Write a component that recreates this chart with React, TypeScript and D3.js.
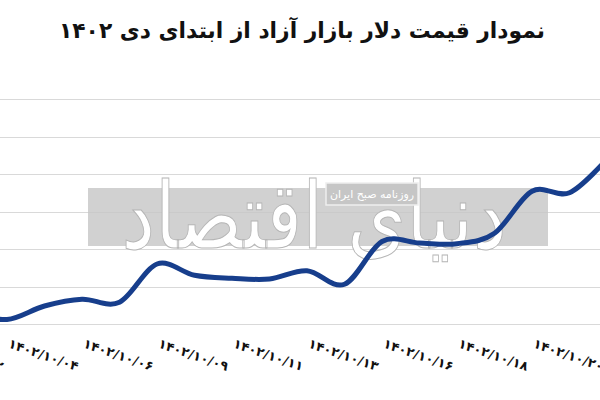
import React from "react";
import * as d3 from "d3";

const dates = [
  "۱۴۰۲/۱۰/۰۲", "۱۴۰۲/۱۰/۰۳", "۱۴۰۲/۱۰/۰۴", "۱۴۰۲/۱۰/۰۵", "۱۴۰۲/۱۰/۰۶",
  "۱۴۰۲/۱۰/۰۷", "۱۴۰۲/۱۰/۰۹", "۱۴۰۲/۱۰/۱۰", "۱۴۰۲/۱۰/۱۱", "۱۴۰۲/۱۰/۱۲",
  "۱۴۰۲/۱۰/۱۳", "۱۴۰۲/۱۰/۱۴", "۱۴۰۲/۱۰/۱۶", "۱۴۰۲/۱۰/۱۷", "۱۴۰۲/۱۰/۱۸",
  "۱۴۰۲/۱۰/۱۹", "۱۴۰۲/۱۰/۲۰", "۱۴۰۲/۱۰/۲۱", "۱۴۰۲/۱۰/۲۳",
];
const prices = [
  49750, 49650, 49560, 49740, 49830, 49790, 50300, 50150, 50110, 50100,
  50210, 50030, 50600, 50580, 50570, 50710, 51270, 51250, 51700,
];
const gridValues = [49500, 50000, 50500, 51000, 51500, 52000, 52500];
const title = "نمودار قیمت دلار بازار آزاد از ابتدای دی ۱۴۰۲";
const watermark = "دنیای اقتصاد";
const watermarkSub = "روزنامه صبح ایران";

const W = 600;
const H = 400;

export default function App() {
  const x = d3.scalePoint<string>().domain(dates).range([-68, 607]);
  const y = d3.scaleLinear().domain([49500, 52500]).range([324, 99]);
  const data = dates.map((d, i) => ({ d, v: prices[i] }));
  const line = d3
    .line<{ d: string; v: number }>()
    .x((p) => x(p.d)!)
    .y((p) => y(p.v))
    .curve(d3.curveCardinal.tension(0));
  const labelDates = dates.filter((_, i) => i % 2 === 0);

  return (
    <svg
      width={W}
      height={H}
      style={{ position: "fixed", left: 0, top: 0, background: "#fff" }}
      fontFamily="'DejaVu Sans', sans-serif"
    >
      <rect x={0} y={0} width={W} height={H} fill="#fff" />
      <text
        x={302}
        y={38}
        textAnchor="middle"
        fontSize={22}
        fontWeight="bold"
        fill="#111"
        direction="rtl"
        textLength={486}
        lengthAdjust="spacingAndGlyphs"
      >
        {title}
      </text>
      {gridValues.map((g) => (
        <line
          key={g}
          x1={0}
          x2={W}
          y1={Math.round(y(g)) + 0.5}
          y2={Math.round(y(g)) + 0.5}
          stroke="#d9d9d9"
          strokeWidth={1.2}
        />
      ))}
      <g>
        <rect x={88} y={188} width={460} height={58} fill="#c6c6c6" opacity={0.8} />
        <text
          x={314}
          y={248}
          textAnchor="middle"
          fontSize={92}
          fill="#fff"
          stroke="#b5b5b5"
          strokeWidth={1}
          direction="rtl"
          textLength={385}
          lengthAdjust="spacingAndGlyphs"
        >
          {watermark}
        </text>
        <rect x={326} y={183} width={92} height={22} fill="#c6c6c6" stroke="#eee" strokeWidth={1.5} />
        <text x={372} y={198} textAnchor="middle" fontSize={11} fill="#fff" direction="rtl">
          {watermarkSub}
        </text>
      </g>
      <path d={line(data) ?? ""} fill="none" stroke="#173e8c" strokeWidth={5} strokeLinecap="round" />
      {labelDates.map((d) => (
        <text
          key={d}
          transform={`translate(${x(d)! + 2},${343}) rotate(19)`}
          dy="0.35em"
          fontSize={13}
          fontWeight="bold"
          fill="#111"
        >
          {d}
        </text>
      ))}
    </svg>
  );
}
